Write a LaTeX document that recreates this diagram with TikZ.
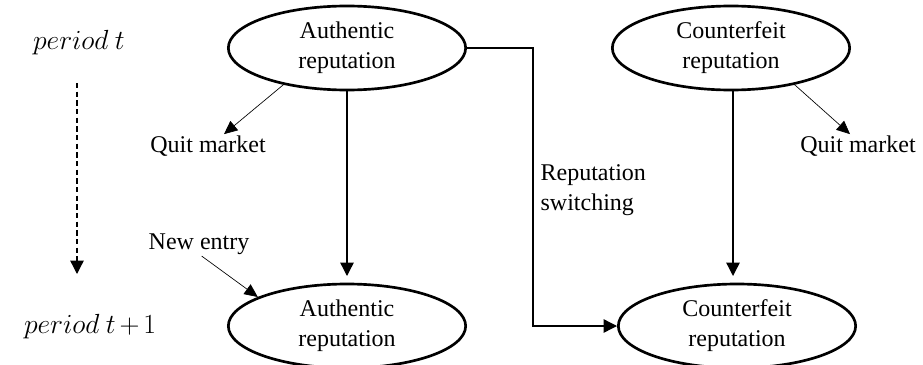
\documentclass[tikz,border=0pt]{standalone}
\usepackage{fontspec}
\setmainfont{Liberation Serif}
\usepackage{tikz}
\usetikzlibrary{shapes.geometric, arrows.meta, positioning, calc}
\tikzset{
	repnode/.style={ellipse, draw=black, line width=2pt, minimum width=178pt,
		minimum height=63pt, inner sep=0pt, align=center, font=\fontsize{18}{22.5}\selectfont},
	lbl/.style={inner sep=1pt, align=left, font=\fontsize{18}{22.5}\selectfont},
	perlbl/.style={inner sep=1pt, font=\fontsize{19.5}{22}\selectfont},
	arrow/.style={-{Triangle[length=10pt, width=10pt]}, line width=1pt},
	thinarrow/.style={-{Triangle[length=10pt, width=9pt]}, line width=0.5pt},
	dasharrow/.style={-{Triangle[length=10pt, width=10pt]}, line width=1pt, dash pattern=on 4pt off 2.5pt},
}
\begin{document}
\begin{tikzpicture}[x=0.75pt, y=-0.75pt]
	\useasboundingbox (0,0) rectangle (923,364);
	% period t
	\node[repnode] (auth_t) at (347,48) {Authentic\\reputation};
	\node[repnode] (fake_t) at (731,48) {Counterfeit\\reputation};
	\node[perlbl] (per_t) at (79,43) {$period\ t$};
	\node[lbl] (quit_a) at (208,146) {Quit market};
	\node[lbl] (quit_c) at (858,146) {Quit market};
	% period t+1
	\node[repnode] (auth_n) at (347,326) {Authentic\\reputation};
	\node[repnode] (fake_n) at (737,326) {Counterfeit\\reputation};
	\node[perlbl] (per_n) at (90,327) {\medmuskip=2.5mu $period\ t+1$};
	\node[lbl] (entry) at (199,244) {New entry};
	\node[lbl, anchor=west] (switch) at (539,190) {Reputation\\switching};
	% time axis
	\coordinate (dtop) at (77,83);
	\coordinate (dbot) at (77,274);
	\draw[dasharrow] (dtop) -- (dbot);
	% flows
	\draw[arrow, shorten >=5pt] (auth_t.south) -- (auth_n.north);
	\draw[arrow, shorten >=5pt] (fake_t.south -| 733,0) -- (fake_n.north -| 733,0);
	\coordinate (turn) at (533,190);
	\draw[arrow] (auth_t.east) -| (turn) |- (fake_n.west);
	\draw[thinarrow] (auth_t.210) -- ([xshift=12pt]quit_a.north);
	\draw[thinarrow] (fake_t.-30) -- ([xshift=-6pt]quit_c.north);
	\draw[thinarrow] ([xshift=2pt]entry.south) -- (auth_n.162);
\end{tikzpicture}
\end{document}
